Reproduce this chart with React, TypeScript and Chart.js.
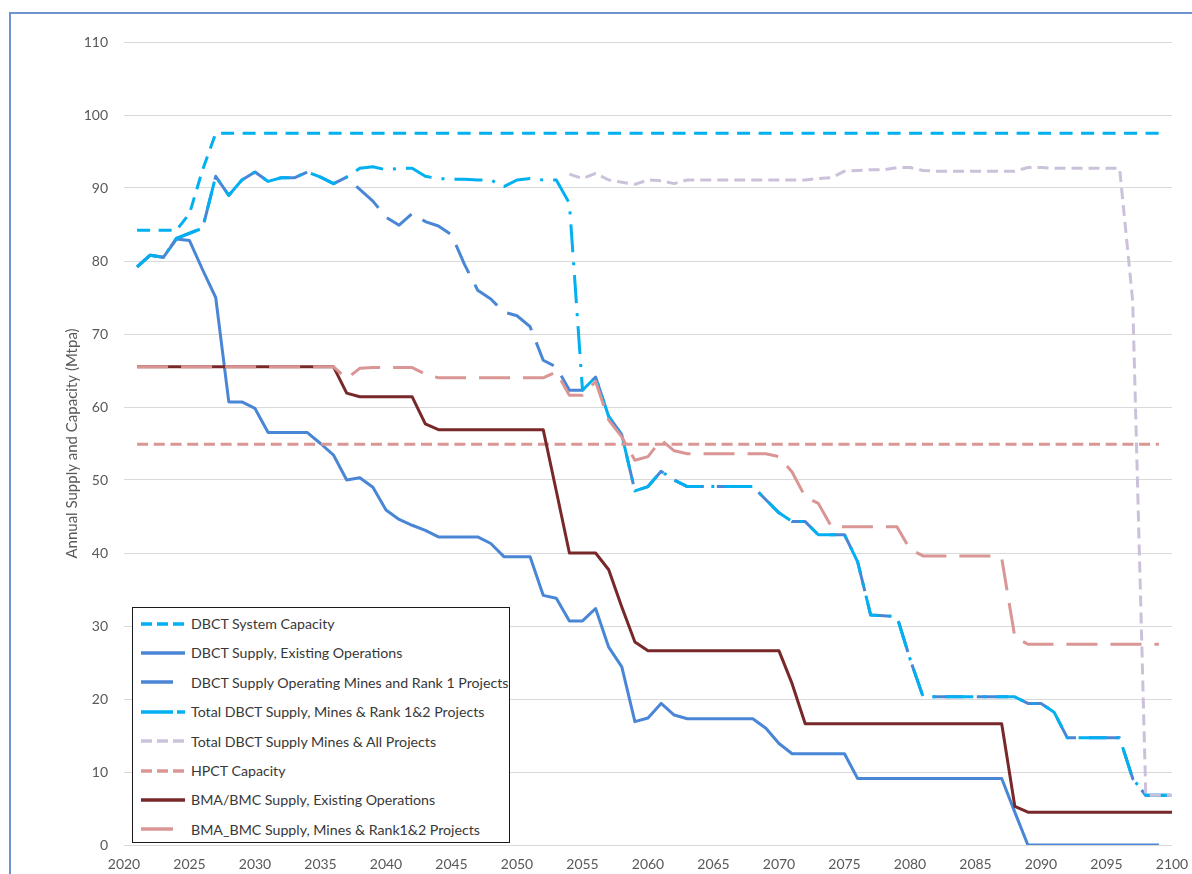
import React, { useEffect, useRef } from "react";
import { Chart, registerables } from "chart.js";

Chart.register(...registerables);

// ---------- DATA ----------
const YEARS = [
  2021, 2022, 2023, 2024, 2025, 2026, 2027, 2028, 2029, 2030,
  2031, 2032, 2033, 2034, 2035, 2036, 2037, 2038, 2039, 2040,
  2041, 2042, 2043, 2044, 2045, 2046, 2047, 2048, 2049, 2050,
  2051, 2052, 2053, 2054, 2055, 2056, 2057, 2058, 2059, 2060,
  2061, 2062, 2063, 2064, 2065, 2066, 2067, 2068, 2069, 2070,
  2071, 2072, 2073, 2074, 2075, 2076, 2077, 2078, 2079, 2080,
  2081, 2082, 2083, 2084, 2085, 2086, 2087, 2088, 2089, 2090,
  2091, 2092, 2093, 2094, 2095, 2096, 2097, 2098, 2099, 2100,
];

const DBCT_CAPACITY = [
  84.2, 84.2, 84.2, 84.2, 86.5, 92.5, 97.5, 97.5, 97.5, 97.5,
  97.5, 97.5, 97.5, 97.5, 97.5, 97.5, 97.5, 97.5, 97.5, 97.5,
  97.5, 97.5, 97.5, 97.5, 97.5, 97.5, 97.5, 97.5, 97.5, 97.5,
  97.5, 97.5, 97.5, 97.5, 97.5, 97.5, 97.5, 97.5, 97.5, 97.5,
  97.5, 97.5, 97.5, 97.5, 97.5, 97.5, 97.5, 97.5, 97.5, 97.5,
  97.5, 97.5, 97.5, 97.5, 97.5, 97.5, 97.5, 97.5, 97.5, 97.5,
  97.5, 97.5, 97.5, 97.5, 97.5, 97.5, 97.5, 97.5, 97.5, 97.5,
  97.5, 97.5, 97.5, 97.5, 97.5, 97.5, 97.5, 97.5, 97.5, null,
];

const DBCT_EXISTING = [
  79.2, 80.8, 80.5, 83.0, 82.8, 78.8, 75.0, 60.7, 60.7, 59.8,
  56.5, 56.5, 56.5, 56.5, 55.0, 53.4, 50.0, 50.3, 49.0, 45.9,
  44.6, 43.8, 43.1, 42.2, 42.2, 42.2, 42.2, 41.3, 39.5, 39.5,
  39.5, 34.2, 33.8, 30.7, 30.7, 32.4, 27.1, 24.4, 16.9, 17.4,
  19.4, 17.8, 17.3, 17.3, 17.3, 17.3, 17.3, 17.3, 16.0, 13.9,
  12.5, 12.5, 12.5, 12.5, 12.5, 9.1, 9.1, 9.1, 9.1, 9.1,
  9.1, 9.1, 9.1, 9.1, 9.1, 9.1, 9.1, 4.5, 0, 0,
  0, 0, 0, 0, 0, 0, 0, 0, 0, null,
];

const DBCT_RANK1 = [
  79.2, 80.8, 80.5, 83.1, 83.8, 84.5, 91.6, 89.0, 91.1, 92.2,
  90.9, 91.4, 91.4, 92.2, 91.5, 90.6, 91.5, 89.8, 88.2, 86.0,
  84.9, 86.5, 85.4, 84.8, 83.6, 79.5, 76.0, 74.8, 73.0, 72.5,
  71.0, 66.4, 65.5, 62.3, 62.3, 64.1, 58.7, 56.2, 48.5, 49.1,
  51.2, 50.0, 49.1, 49.1, 49.1, 49.1, 49.1, 49.1, 47.3, 45.5,
  44.3, 44.3, 42.5, 42.5, 42.5, 38.8, 31.5, 31.4, 31.3, 25.5,
  20.3, 20.3, 20.3, 20.3, 20.3, 20.3, 20.3, 20.3, 19.4, 19.4,
  18.2, 14.7, 14.7, 14.7, 14.7, 14.7, 9.1, 6.8, 6.8, 6.8,
];

const DBCT_RANK12 = [
  79.2, 80.8, 80.5, 83.1, 83.8, 84.5, 91.6, 89.0, 91.1, 92.2,
  90.9, 91.4, 91.4, 92.2, 91.5, 90.6, 91.5, 92.7, 92.9, 92.5,
  92.7, 92.7, 91.6, 91.3, 91.2, 91.2, 91.1, 91.1, 90.2, 91.1,
  91.3, 91.1, 91.1, 87.9, 62.3, 64.1, 58.7, 56.2, 48.5, 49.1,
  51.2, 50.0, 49.1, 49.1, 49.1, 49.1, 49.1, 49.1, 47.3, 45.5,
  44.3, 44.3, 42.5, 42.5, 42.5, 38.8, 31.5, 31.4, 31.3, 25.5,
  20.3, 20.3, 20.3, 20.3, 20.3, 20.3, 20.3, 20.3, 19.4, 19.4,
  18.2, 14.7, 14.7, 14.7, 14.7, 14.7, 9.1, 6.8, 6.8, 6.8,
];

const DBCT_ALL_PROJECTS = [
  null, null, null, null, null, null, null, null, null, null,
  null, null, null, null, null, null, null, null, null, null,
  null, null, null, null, null, null, null, null, null, null,
  null, null, null, 91.9, 91.3, 92.0, 91.1, 90.8, 90.5, 91.1,
  91.0, 90.6, 91.1, 91.1, 91.1, 91.1, 91.1, 91.1, 91.1, 91.1,
  91.1, 91.1, 91.3, 91.4, 92.3, 92.4, 92.5, 92.5, 92.8, 92.8,
  92.4, 92.3, 92.3, 92.3, 92.3, 92.3, 92.3, 92.3, 92.8, 92.8,
  92.7, 92.7, 92.7, 92.7, 92.7, 92.7, 74.5, 6.8, 6.8, 6.8,
];

const HPCT_CAPACITY = [
  54.9, 54.9, 54.9, 54.9, 54.9, 54.9, 54.9, 54.9, 54.9, 54.9,
  54.9, 54.9, 54.9, 54.9, 54.9, 54.9, 54.9, 54.9, 54.9, 54.9,
  54.9, 54.9, 54.9, 54.9, 54.9, 54.9, 54.9, 54.9, 54.9, 54.9,
  54.9, 54.9, 54.9, 54.9, 54.9, 54.9, 54.9, 54.9, 54.9, 54.9,
  54.9, 54.9, 54.9, 54.9, 54.9, 54.9, 54.9, 54.9, 54.9, 54.9,
  54.9, 54.9, 54.9, 54.9, 54.9, 54.9, 54.9, 54.9, 54.9, 54.9,
  54.9, 54.9, 54.9, 54.9, 54.9, 54.9, 54.9, 54.9, 54.9, 54.9,
  54.9, 54.9, 54.9, 54.9, 54.9, 54.9, 54.9, 54.9, 54.9, null,
];

const BMA_EXISTING = [
  65.5, 65.5, 65.5, 65.5, 65.5, 65.5, 65.5, 65.5, 65.5, 65.5,
  65.5, 65.5, 65.5, 65.5, 65.5, 65.5, 61.9, 61.4, 61.4, 61.4,
  61.4, 61.4, 57.7, 56.9, 56.9, 56.9, 56.9, 56.9, 56.9, 56.9,
  56.9, 56.9, 48.5, 40.0, 40.0, 40.0, 37.7, 32.6, 27.8, 26.6,
  26.6, 26.6, 26.6, 26.6, 26.6, 26.6, 26.6, 26.6, 26.6, 26.6,
  22.1, 16.6, 16.6, 16.6, 16.6, 16.6, 16.6, 16.6, 16.6, 16.6,
  16.6, 16.6, 16.6, 16.6, 16.6, 16.6, 16.6, 5.3, 4.5, 4.5,
  4.5, 4.5, 4.5, 4.5, 4.5, 4.5, 4.5, 4.5, 4.5, 4.5,
];

const BMA_RANK12 = [
  65.5, 65.5, 65.5, 65.5, 65.5, 65.5, 65.5, 65.5, 65.5, 65.5,
  65.5, 65.5, 65.5, 65.5, 65.5, 65.5, 63.9, 65.3, 65.4, 65.4,
  65.4, 65.4, 64.5, 64.0, 64.0, 64.0, 64.0, 64.0, 64.0, 64.0,
  64.0, 64.0, 64.8, 61.6, 61.6, 63.5, 58.2, 55.9, 52.7, 53.2,
  55.5, 54.0, 53.6, 53.6, 53.6, 53.6, 53.6, 53.6, 53.6, 53.2,
  51.1, 47.7, 46.8, 43.6, 43.6, 43.6, 43.6, 43.6, 43.6, 40.5,
  39.6, 39.6, 39.6, 39.6, 39.6, 39.6, 39.3, 28.5, 27.5, 27.5,
  27.5, 27.5, 27.5, 27.5, 27.5, 27.5, 27.5, 27.5, 27.5, null,
];

const SERIES_LABELS = [
  "DBCT System Capacity",
  "DBCT Supply, Existing Operations",
  "DBCT Supply Operating Mines and Rank 1 Projects",
  "Total DBCT Supply, Mines & Rank 1&2 Projects",
  "Total DBCT Supply Mines & All Projects",
  "HPCT Capacity",
  "BMA/BMC Supply, Existing Operations",
  "BMA_BMC Supply, Mines & Rank1&2 Projects",
];

const SERIES_VALUES = [
  DBCT_CAPACITY,
  DBCT_EXISTING,
  DBCT_RANK1,
  DBCT_RANK12,
  DBCT_ALL_PROJECTS,
  HPCT_CAPACITY,
  BMA_EXISTING,
  BMA_RANK12,
];

const X_MIN = 2020;
const X_MAX = 2100;
const X_STEP = 5;
const Y_MIN = 0;
const Y_MAX = 110;
const Y_STEP = 10;

// ---------- STYLES ----------
const STYLES = [
  { color: "#00B0F0", width: 3, dash: [13, 8.5], legendDash: "11 5" },
  { color: "#4A86D6", width: 3, dash: [], legendDash: "" },
  { color: "#4A86D6", width: 3, dash: [31, 13], legendDash: "32 20" },
  { color: "#00B0F0", width: 3, dash: [28, 10, 3, 10], legendDash: "32 4 8 10" },
  { color: "#CCC1DA", width: 3, dash: [11, 6], legendDash: "11 5" },
  { color: "#D99694", width: 3, dash: [11, 5.7], legendDash: "11 5" },
  { color: "#782828", width: 3, dash: [], legendDash: "" },
  { color: "#D99694", width: 3, dash: [31, 13], legendDash: "32 20" },
];

const FONT = "Lato";
const TICK_COLOR = "#595959";

export default function App() {
  const canvasRef = useRef<HTMLCanvasElement | null>(null);

  useEffect(() => {
    const canvas = canvasRef.current;
    if (!canvas) return;
    const n = SERIES_VALUES.length;
    const chart = new Chart(canvas, {
      type: "line",
      data: {
        datasets: SERIES_VALUES.map((vals, i) => ({
          label: SERIES_LABELS[i],
          data: YEARS.map((x, j) => ({ x, y: vals[j] })),
          borderColor: STYLES[i].color,
          backgroundColor: STYLES[i].color,
          borderWidth: STYLES[i].width,
          borderDash: STYLES[i].dash,
          borderCapStyle: "butt",
          borderJoinStyle: "round",
          pointRadius: 0,
          pointHoverRadius: 0,
          tension: 0,
          fill: false,
          spanGaps: false,
          order: n - i,
        })),
      },
      options: {
        animation: false,
        responsive: false,
        maintainAspectRatio: false,
        events: [],
        layout: { padding: { top: 42, right: 20, left: 0, bottom: 0 } },
        plugins: {
          legend: { display: false },
          tooltip: { enabled: false },
          title: { display: false },
        },
        scales: {
          x: {
            type: "linear",
            min: X_MIN,
            max: X_MAX,
            grid: { display: false, drawTicks: false },
            border: { display: false },
            ticks: {
              stepSize: X_STEP,
              autoSkip: false,
              maxRotation: 0,
              color: TICK_COLOR,
              font: { family: FONT, size: 14 },
              padding: 11,
              callback: (v: any) => String(v),
            },
            afterFit: (s: any) => {
              s.height = 29;
              s.paddingLeft = 0;
              s.paddingRight = 0;
            },
          },
          y: {
            min: Y_MIN,
            max: Y_MAX,
            grid: { color: "#D9D9D9", lineWidth: 1, drawTicks: false },
            border: { display: false },
            ticks: {
              stepSize: Y_STEP,
              color: TICK_COLOR,
              font: { family: FONT, size: 14 },
              padding: 16,
            },
            title: {
              display: true,
              text: "Annual Supply and Capacity (Mtpa)",
              color: TICK_COLOR,
              font: { family: FONT, size: 15 },
              padding: { top: 63, bottom: 0 },
            },
            afterFit: (s: any) => {
              s.width = 124;
            },
          },
        },
      },
    });
    return () => chart.destroy();
  }, []);

  const rowTop0 = 15.5;
  const rowGap = 29.4;

  return (
    <div
      style={{
        position: "fixed",
        left: 0,
        top: 0,
        width: 1192,
        height: 874,
        background: "#ffffff",
        overflow: "hidden",
      }}
    >
      <div
        style={{
          position: "absolute",
          left: 9,
          top: 12,
          width: 1300,
          height: 1000,
          borderLeft: "2px solid #6E93CF",
          borderTop: "2px solid #6E93CF",
        }}
      />
      <canvas
        ref={canvasRef}
        width={1192}
        height={874}
        style={{ position: "absolute", left: 0, top: 0, width: 1192, height: 874 }}
      />
      <div
        style={{
          position: "absolute",
          left: 132,
          top: 607,
          width: 376,
          height: 234,
          background: "#ffffff",
          border: "1.5px solid #1a1a1a",
          fontFamily: FONT,
          fontSize: 14.2,
          color: "#383838",
        }}
      >
        {SERIES_LABELS.map((label, i) => (
          <div
            key={label}
            style={{
              position: "absolute",
              left: 0,
              top: rowTop0 + i * rowGap - 10,
              height: 20,
              width: 376,
              display: "flex",
              alignItems: "center",
            }}
          >
            <svg width={58} height={20} style={{ flex: "0 0 auto" }}>
              <line
                x1={8}
                x2={52}
                y1={10}
                y2={10}
                stroke={STYLES[i].color}
                strokeWidth={3.5}
                strokeDasharray={STYLES[i].legendDash || undefined}
              />
            </svg>
            <span style={{ whiteSpace: "nowrap" }}>{label}</span>
          </div>
        ))}
      </div>
    </div>
  );
}
